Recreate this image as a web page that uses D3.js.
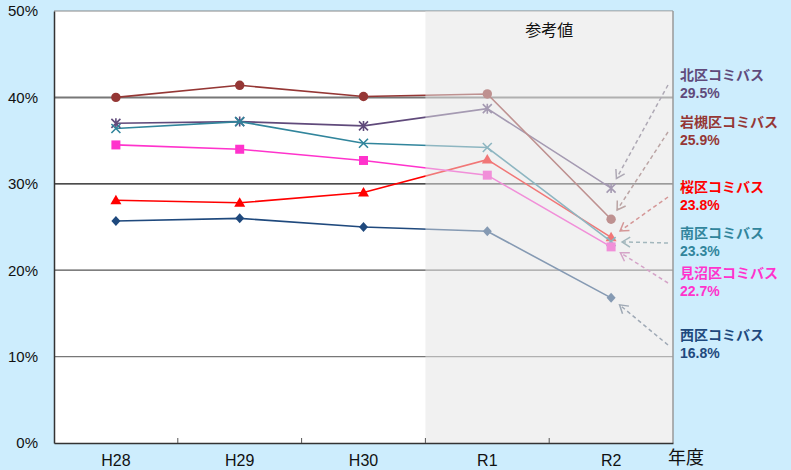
<!DOCTYPE html>
<html>
<head>
<meta charset="utf-8">
<script src="https://cdn.jsdelivr.net/npm/d3@7"></script>
<style>
  body { margin: 0; background: #cdedfd; }
  svg { display: block; }
</style>
</head>
<body>
<svg id="chart" width="791" height="470"></svg>
<script>
const years = ["H28", "H29", "H30", "R1", "R2"];
const yTicks = [0, 10, 20, 30, 40, 50];
const refYears = ["R1", "R2"];

const seriesNames = ["北区コミバス", "岩槻区コミバス", "桜区コミバス", "南区コミバス", "見沼区コミバス", "西区コミバス"];
const kita     = [37.0, 37.2, 36.7, 38.7, 29.5];
const iwatsuki = [40.0, 41.4, 40.1, 40.4, 25.9];
const sakura   = [28.1, 27.8, 29.0, 32.8, 23.8];
const minami   = [36.4, 37.2, 34.7, 34.2, 23.3];
const minuma   = [34.5, 34.0, 32.7, 31.0, 22.7];
const nishi    = [25.7, 26.0, 25.0, 24.5, 16.8];
const seriesValues = [kita, iwatsuki, sakura, minami, minuma, nishi];

// styling per series (same order as seriesNames)
const colors = ["#604a7b", "#953735", "#ff0000", "#31859c", "#ff33cc", "#1f497d"];
const markers = ["asterisk", "circle", "triangle", "times", "square", "diamond"];
const labelY = [75, 122, 187, 233, 273, 335];

const svg = d3.select("#chart");
const margin = {left: 54, right: 118, top: 11, bottom: 27};
const W = 791, H = 470;

const x = d3.scaleBand().domain(years).range([margin.left, W - margin.right]);
const y = d3.scaleLinear().domain([0, 50]).range([H - margin.bottom, margin.top]);
const cx = d => x(d) + x.bandwidth() / 2;

// plot background
svg.append("rect")
    .attr("x", x.range()[0]).attr("y", y(50))
    .attr("width", x.range()[1] - x.range()[0]).attr("height", y(0) - y(50))
    .attr("fill", "#fff");

// gridlines
const gridColor = {10: "#777", 20: "#555", 30: "#111", 40: "#777", 50: "#888"};
svg.append("g").selectAll("line")
    .data(yTicks.filter(t => t > 0)).enter()
    .append("line")
        .attr("x1", x.range()[0]).attr("x2", x.range()[1])
        .attr("y1", d => y(d)).attr("y2", d => y(d))
        .attr("stroke", d => gridColor[d])
        .attr("stroke-width", d => d === 40 ? 2 : 1.2);

// arrows from labels to R2 points
const defs = svg.append("defs");
colors.forEach((c, i) => {
    defs.append("marker")
        .attr("id", "arr" + i)
        .attr("viewBox", "-10 -6 12 12")
        .attr("markerWidth", 12).attr("markerHeight", 12)
        .attr("markerUnits", "userSpaceOnUse")
        .attr("orient", "auto")
        .append("path")
            .attr("d", "M-8,-5L0,0L-8,5")
            .attr("fill", "none")
            .attr("stroke", d3.interpolateRgb(c, "#888")(0.5))
            .attr("stroke-width", 1.5);
});
const arrowStartX = 668;
seriesValues.forEach((vals, i) => {
    const px = cx("R2"), py = y(vals[4]);
    const sx = arrowStartX, sy = labelY[i] + 10;
    const dx = sx - px, dy = sy - py, len = Math.hypot(dx, dy);
    svg.append("line")
        .attr("x1", sx).attr("y1", sy)
        .attr("x2", px + dx / len * 11).attr("y2", py + dy / len * 11)
        .attr("stroke", d3.interpolateRgb(colors[i], "#888")(0.5))
        .attr("stroke-width", 1.5)
        .attr("stroke-dasharray", "4,3")
        .attr("marker-end", "url(#arr" + i + ")");
});

// lines
const line = d3.line().x((d, j) => cx(years[j])).y(d => y(d));
seriesValues.forEach((vals, i) => {
    svg.append("path")
        .attr("d", line(vals))
        .attr("fill", "none")
        .attr("stroke", colors[i])
        .attr("stroke-width", 1.6);
});

// markers
const markerPath = function(type) {
    switch (type) {
        case "circle": return d3.symbol(d3.symbolCircle, 70)();
        case "square": return "M-4.5,-4.5H4.5V4.5H-4.5Z";
        case "triangle": return "M0,-5.5L5.5,4L-5.5,4Z";
        case "diamond": return "M0,-5L4.5,0L0,5L-4.5,0Z";
        case "times": return "M-4.5,-4.5L4.5,4.5M4.5,-4.5L-4.5,4.5";
        case "asterisk": return "M-4.5,-4.5L4.5,4.5M4.5,-4.5L-4.5,4.5M0,-5V5";
    }
};
seriesValues.forEach((vals, i) => {
    const stroked = markers[i] === "times" || markers[i] === "asterisk";
    svg.append("g").selectAll("path")
        .data(vals).enter()
        .append("path")
            .attr("transform", (d, j) => `translate(${cx(years[j])},${y(d)})`)
            .attr("d", markerPath(markers[i]))
            .attr("fill", stroked ? "none" : colors[i])
            .attr("stroke", stroked ? colors[i] : "none")
            .attr("stroke-width", 1.6);
});

// reference-value shading (drawn over the marks to fade them)
const refX0 = x(refYears[0]), refX1 = x(refYears[1]) + x.bandwidth();
svg.append("rect")
    .attr("x", refX0).attr("y", y(50))
    .attr("width", refX1 - refX0).attr("height", y(0) - y(50))
    .attr("fill", "#e4e4e4")
    .attr("fill-opacity", 0.52);
svg.append("line")
    .attr("x1", refX1).attr("x2", refX1)
    .attr("y1", y(50)).attr("y2", y(0))
    .attr("stroke", "#999").attr("stroke-width", 1.5);
svg.append("text")
    .attr("x", (refX0 + refX1) / 2).attr("y", 36)
    .attr("text-anchor", "middle")
    .attr("font-family", "Noto Sans CJK JP")
    .attr("font-size", 16)
    .attr("fill", "#111")
    .text("参考値");

// axes
const axisY = d3.axisLeft(y).tickValues(yTicks).tickFormat(d => d + "%").tickSize(0).tickPadding(16);
svg.append("g")
    .attr("transform", `translate(${margin.left},0)`)
    .call(axisY)
    .call(g => g.select(".domain").attr("stroke", "#333").attr("stroke-width", 1.5))
    .call(g => g.selectAll("text")
        .attr("font-family", "'Liberation Sans', Arial, sans-serif")
        .attr("font-size", 15).attr("fill", "#111"));

const axisX = d3.axisBottom(x).tickSize(0).tickPadding(12);
svg.append("g")
    .attr("transform", `translate(0,${y(0)})`)
    .call(axisX)
    .call(g => g.select(".domain").attr("stroke", "#333").attr("stroke-width", 1.5))
    .call(g => g.selectAll("text")
        .attr("font-family", "'Liberation Sans', Arial, sans-serif")
        .attr("font-size", 16).attr("fill", "#111"));
// small ticks between categories
svg.append("g").selectAll("line")
    .data(years.slice(1)).enter()
    .append("line")
        .attr("x1", d => x(d)).attr("x2", d => x(d))
        .attr("y1", y(0)).attr("y2", y(0) - 5)
        .attr("stroke", "#555");

svg.append("text")
    .attr("x", 686).attr("y", 464)
    .attr("text-anchor", "middle")
    .attr("font-family", "Noto Sans CJK JP")
    .attr("font-size", 18)
    .attr("fill", "#111")
    .text("年度");

// right-hand labels: name and R2 value as separate texts
seriesValues.forEach((vals, i) => {
    svg.append("text")
        .attr("x", 680).attr("y", labelY[i] + 5)
        .attr("font-family", "Noto Sans CJK JP")
        .attr("font-weight", "bold")
        .attr("font-size", 14)
        .attr("fill", colors[i])
        .text(seriesNames[i]);
    svg.append("text")
        .attr("x", 680).attr("y", labelY[i] + 23)
        .attr("font-family", "'Liberation Sans', Arial, sans-serif")
        .attr("font-weight", "bold")
        .attr("font-size", 14)
        .attr("fill", colors[i])
        .text(vals[4].toFixed(1) + "%");
});
</script>
</body>
</html>
